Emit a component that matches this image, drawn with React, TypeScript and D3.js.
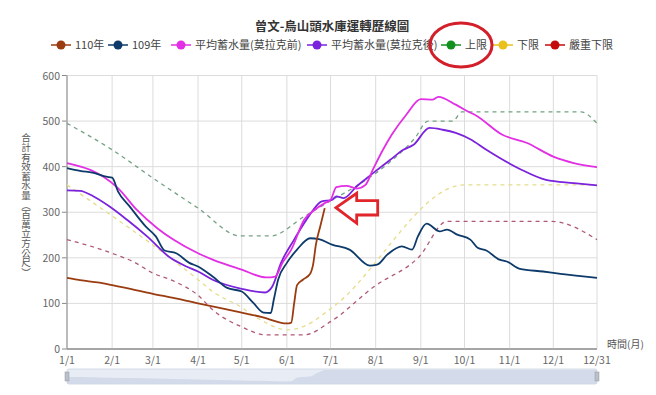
import React from "react";
import * as d3 from "d3";

// 曾文-烏山頭水庫運轉歷線圖
const title = "曾文-烏山頭水庫運轉歷線圖";
const yLabel = "合計有效蓄水量（百萬立方公尺）";
const yTicks = [0, 100, 200, 300, 400, 500, 600];
const xTickDates = ["1/1", "2/1", "3/1", "4/1", "5/1", "6/1", "7/1", "8/1", "9/1", "10/1", "11/1", "12/1", "12/31"];

const y110: [string, number][] = [
  ["1/1", 156], ["1/8", 152], ["1/15", 149], ["1/22", 146], ["2/1", 140], ["2/15", 131], ["3/1", 121],
  ["3/15", 112], ["4/1", 100], ["4/15", 91], ["5/1", 80], ["5/15", 70], ["6/1", 56], ["6/4", 58],
  ["6/6", 100], ["6/8", 140], ["6/12", 152], ["6/17", 165], ["6/19", 185], ["6/21", 230], ["6/24", 270], ["6/27", 309],
];
const y109: [string, number][] = [
  ["1/1", 397], ["1/10", 391], ["1/20", 386], ["1/28", 378], ["2/1", 376], ["2/5", 346], ["2/13", 313],
  ["2/24", 269], ["3/3", 247], ["3/9", 216], ["3/17", 210], ["3/26", 189], ["4/1", 181], ["4/11", 159],
  ["4/21", 134], ["5/1", 126], ["5/9", 101], ["5/16", 80], ["5/21", 79], ["5/23", 108], ["5/26", 152],
  ["6/1", 189], ["6/8", 218], ["6/17", 243], ["6/23", 241], ["7/2", 229], ["7/14", 218], ["7/28", 183],
  ["8/2", 185], ["8/9", 207], ["8/19", 225], ["8/26", 218], ["8/30", 247], ["9/5", 275], ["9/14", 258],
  ["9/19", 262], ["9/26", 251], ["10/5", 240], ["10/10", 222], ["10/16", 216], ["10/25", 196], ["10/30", 192],
  ["11/8", 176], ["11/24", 170], ["12/6", 165], ["12/31", 156],
];
const avgBefore: [string, number][] = [
  ["1/1", 408], ["1/17", 393], ["1/26", 378], ["2/5", 353], ["2/18", 305], ["3/4", 265], ["3/15", 240],
  ["4/1", 210], ["4/11", 196], ["5/1", 174], ["5/18", 157], ["5/24", 159], ["5/29", 189], ["6/4", 218],
  ["6/13", 284], ["6/20", 305], ["6/27", 320], ["7/1", 327], ["7/5", 355], ["7/12", 358], ["7/19", 352],
  ["7/25", 360], ["7/30", 393], ["8/6", 437], ["8/12", 470], ["8/22", 514], ["9/1", 548], ["9/9", 547],
  ["9/13", 553], ["9/25", 536], ["10/4", 520], ["10/8", 514], ["10/27", 470], ["11/13", 452], ["12/1", 422],
  ["12/15", 408], ["12/31", 399],
];
const avgAfter: [string, number][] = [
  ["1/1", 348], ["1/10", 347], ["1/19", 335], ["1/30", 313], ["2/11", 284], ["2/25", 247], ["3/13", 200],
  ["3/24", 181], ["4/1", 170], ["4/11", 152], ["5/1", 132], ["5/17", 124], ["5/22", 137], ["5/28", 189],
  ["6/6", 240], ["6/16", 291], ["6/25", 324], ["7/2", 327], ["7/5", 335], ["7/10", 331], ["7/19", 357],
  ["7/26", 375], ["8/2", 393], ["8/11", 415], ["8/20", 437], ["8/27", 448], ["9/7", 485], ["9/16", 481],
  ["9/25", 474], ["10/5", 460], ["10/16", 437], ["11/8", 395], ["11/26", 371], ["12/15", 364], ["12/31", 359],
];
const upper: [string, number][] = [
  ["1/1", 495], ["2/1", 437], ["3/1", 375], ["4/1", 309], ["4/30", 248], ["5/21", 248], ["6/13", 291],
  ["7/1", 325], ["7/20", 360], ["8/10", 408], ["8/28", 463], ["9/6", 500], ["9/23", 500], ["9/29", 520],
  ["12/20", 520], ["12/31", 495],
];
const lower: [string, number][] = [
  ["1/1", 360], ["4/1", 152], ["4/11", 126], ["4/30", 93], ["5/14", 64], ["6/1", 42], ["6/13", 50],
  ["7/1", 88], ["10/1", 360], ["12/31", 360],
];
const severe: [string, number][] = [
  ["1/1", 240], ["2/1", 210], ["2/17", 189], ["2/28", 168], ["3/16", 148], ["4/1", 118], ["4/11", 86],
  ["4/30", 50], ["5/18", 31], ["6/13", 31], ["7/1", 60], ["7/31", 137], ["8/31", 203], ["9/19", 280],
  ["11/30", 280], ["12/31", 240],
];

const series = [
  { name: "110年", data: y110, color: "#9a3b10", line: "#9a3b10", dash: "" },
  { name: "109年", data: y109, color: "#0d3a6a", line: "#0d3a6a", dash: "" },
  { name: "平均蓄水量(莫拉克前)", data: avgBefore, color: "#e22ee4", line: "#e22ee4", dash: "" },
  { name: "平均蓄水量(莫拉克後)", data: avgAfter, color: "#7b22dc", line: "#7b22dc", dash: "" },
  { name: "上限", data: upper, color: "#12911c", line: "#74a184", dash: "4,4" },
  { name: "下限", data: lower, color: "#e8c21a", line: "#e7dc8c", dash: "4,4" },
  { name: "嚴重下限", data: severe, color: "#c40a0a", line: "#b05a72", dash: "4,4" },
];
const legendX = [61, 118, 181, 317, 451, 503, 555];

const parse = (s: string) => {
  const [m, d] = s.split("/").map(Number);
  return new Date(2021, m - 1, d);
};

export default function App() {
  const left = 67, right = 597, top = 75.5, bottom = 349;
  const x = d3.scaleTime().domain([parse("1/1"), parse("12/31")]).range([left, right]);
  const y = d3.scaleLinear().domain([0, 600]).range([bottom, top]);
  const line = d3.line<[string, number]>()
    .x(d => x(parse(d[0])))
    .y(d => y(d[1]))
    .curve(d3.curveMonotoneX);

  // slider data shadow
  const sy = d3.scaleLinear().domain([0, d3.max(y110, d => d[1]) as number]).range([384, 370]);
  const shadowData: [string, number][] = [...y110, ["12/31", y110[y110.length - 1][1]]];
  const shadow = d3.area<[string, number]>()
    .x(d => x(parse(d[0])))
    .y0(384)
    .y1(d => sy(d[1]))
    .curve(d3.curveMonotoneX);

  const font = "'Noto Sans CJK TC', 'Noto Sans', sans-serif";

  return (
    <svg width={656} height={395} style={{ position: "absolute", left: 0, top: 0, background: "#fff" }} fontFamily={font}>
      <text x={332} y={31} textAnchor="middle" fontSize={12.5} fontWeight="bold" fill="#333">{title}</text>

      {series.map((s, i) => (
        <g key={s.name} transform={`translate(${legendX[i]},45)`}>
          <line x1={-10} x2={10} y1={0} y2={0} stroke={s.color} strokeWidth={1.5} />
          <circle r={4.5} fill={s.color} />
          <text x={14} y={4} fontSize={11} fill="#444">{s.name}</text>
        </g>
      ))}
      <ellipse cx={461} cy={45} rx={31} ry={22} fill="none" stroke="#d31f2a" strokeWidth={3} />

      {yTicks.map(t => (
        <g key={t}>
          <line x1={left} x2={right} y1={y(t)} y2={y(t)} stroke={t === 0 ? "#888" : "#dcdcdc"} strokeWidth={1} />
          <line x1={left - 5} x2={left} y1={y(t)} y2={y(t)} stroke="#888" />
          <text x={left - 7} y={y(t) + 4} textAnchor="end" fontSize={10.5} fill="#666">{t}</text>
        </g>
      ))}
      {xTickDates.map(t => (
        <g key={t}>
          <line x1={x(parse(t))} x2={x(parse(t))} y1={top} y2={bottom} stroke="#dcdcdc" />
          <text x={x(parse(t))} y={bottom + 15} textAnchor="middle" fontSize={10.5} fill="#666">{t}</text>
        </g>
      ))}
      <line x1={left} x2={left} y1={top} y2={bottom} stroke="#888" />
      <line x1={left} x2={right} y1={bottom} y2={bottom} stroke="#888" />
      <text x={607} y={348} fontSize={10} fill="#555">時間(月)</text>
      <text x={26} y={205} fontSize={9.6} fill="#555" textAnchor="middle"
        style={{ writingMode: "vertical-rl" as any }}>{yLabel}</text>

      {series.slice(4).map(s => (
        <path key={s.name} d={line(s.data) || ""} fill="none" stroke={s.line} strokeWidth={1.3} strokeDasharray={s.dash} />
      ))}
      {series.slice(0, 4).reverse().map(s => (
        <path key={s.name} d={line(s.data) || ""} fill="none" stroke={s.line} strokeWidth={1.8} />
      ))}

      <path d="M336,207.7 L356.7,193.3 L356.7,200.7 L377.7,200.7 L377.7,215 L356.7,215 L356.7,223.3 Z"
        fill="#fff" stroke="#e0252b" strokeWidth={2.8} strokeLinejoin="miter" />

      <rect x={left} y={369} width={right - left} height={15} fill="#e8ecf4" stroke="#d3dbe8" rx={2} />
      <path d={shadow(shadowData) || ""} fill="#cdd6e6" opacity={0.8} />
      <rect x={left - 2} y={372} width={4} height={9} fill="#b8c0cc" stroke="#999" strokeWidth={0.5} />
      <rect x={right - 2} y={372} width={4} height={9} fill="#b8c0cc" stroke="#999" strokeWidth={0.5} />
    </svg>
  );
}
